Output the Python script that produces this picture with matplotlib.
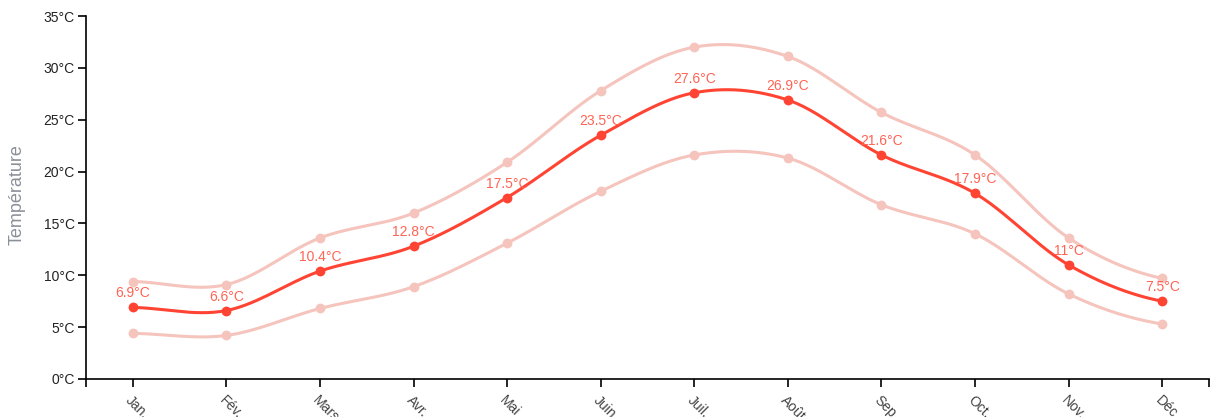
import matplotlib.pyplot as plt
import numpy as np

months = ["Jan.", "Fév.", "Mars", "Avr.", "Mai", "Juin", "Juil.", "Août", "Sep.", "Oct.", "Nov.", "Déc."]
temp_mean = [6.9, 6.6, 10.4, 12.8, 17.5, 23.5, 27.6, 26.9, 21.6, 17.9, 11, 7.5]
temp_high = [9.4, 9.1, 13.6, 16.0, 20.9, 27.8, 32.0, 31.1, 25.7, 21.6, 13.6, 9.7]
temp_low = [4.4, 4.2, 6.8, 8.9, 13.1, 18.1, 21.6, 21.3, 16.8, 14.0, 8.2, 5.3]
labels = ["6.9°C", "6.6°C", "10.4°C", "12.8°C", "17.5°C", "23.5°C", "27.6°C", "26.9°C",
          "21.6°C", "17.9°C", "11°C", "7.5°C"]
y_ticks = [0, 5, 10, 15, 20, 25, 30, 35]


def smooth(y, n=30):
    # catmull-rom style cubic hermite through the points
    y = np.asarray(y, dtype=float)
    m = len(y)
    yp = np.concatenate([[y[0]], y, [y[-1]]])
    tang = (yp[2:] - yp[:-2]) / 2
    xs, ys = [], []
    for i in range(m - 1):
        t = np.linspace(0, 1, n, endpoint=False)
        h00 = 2 * t ** 3 - 3 * t ** 2 + 1
        h10 = t ** 3 - 2 * t ** 2 + t
        h01 = -2 * t ** 3 + 3 * t ** 2
        h11 = t ** 3 - t ** 2
        xs.extend(i + t)
        ys.extend(h00 * y[i] + h10 * tang[i] + h01 * y[i + 1] + h11 * tang[i + 1])
    xs.append(m - 1)
    ys.append(y[-1])
    return np.array(xs), np.array(ys)


fig = plt.figure(figsize=(12.11, 4.17), dpi=100)
ax = fig.add_axes([86 / 1211, 38 / 417, (1209 - 86) / 1211, (379 - 16) / 417])

x = np.arange(len(months))
light = "#f5c4bd"
main = "#ff4433"

for series in (temp_high, temp_low):
    sx, sy = smooth(series)
    ax.plot(sx, sy, color=light, lw=2.2, zorder=2)
    ax.scatter(x, series, s=50, color=light, zorder=3, linewidths=0)

sx, sy = smooth(temp_mean)
ax.plot(sx, sy, color=main, lw=2.2, zorder=4)
ax.scatter(x, temp_mean, s=50, color=main, zorder=5, linewidths=0)

for xi, v, lab in zip(x, temp_mean, labels):
    ax.annotate(lab, (xi, v), xytext=(0, 5), textcoords="offset points",
                ha="center", va="bottom", fontsize=10, color="#ff6354",
                family="Liberation Sans", zorder=6)

ax.set_xlim(-0.5, 11.5)
ax.set_ylim(0, 35)
ax.set_yticks(y_ticks)
ax.set_yticklabels([f"{t}°C" for t in y_ticks], fontsize=10, family="Liberation Sans", color="#222")
ax.set_xticks(x)
ax.set_xticklabels(months, rotation=-45, ha="left", va="top", rotation_mode="anchor",
                   fontsize=10, family="Liberation Sans", color="#444")
ax.set_xticks([-0.5, 11.5], minor=True)
ax.tick_params(axis="x", which="both", length=6, width=1.2, pad=4)
ax.tick_params(axis="y", length=6, width=1.2, pad=2)

ax.spines["top"].set_visible(False)
ax.spines["right"].set_visible(False)
ax.spines["left"].set_linewidth(1.2)
ax.spines["bottom"].set_linewidth(1.2)

fig.text(17 / 1211, (417 - 195) / 417, "Température", rotation=90,
         ha="center", va="center", fontsize=13, color="#8a9099", family="Liberation Sans")

fig.savefig("out.png", dpi=100)
